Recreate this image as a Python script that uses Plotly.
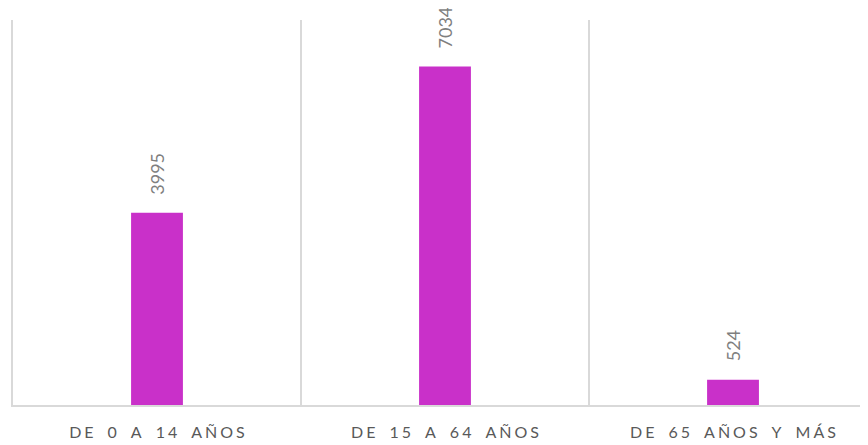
import plotly.graph_objects as go

categories = ["DE 0 A 14 AÑOS", "DE 15 A 64 AÑOS", "DE 65 AÑOS Y MÁS"]
values = [3995, 7034, 524]

def spaced(s):
    # emulate the wide letter spacing of the original axis labels
    words = s.split(" ")
    return "\u2003\u2009".join("\u2009\u200a".join(list(w)) for w in words)

xpos = list(range(len(categories)))

fig = go.Figure()
fig.add_trace(go.Bar(
    x=xpos, y=values, width=0.18,
    marker=dict(color="#C930C9", line=dict(width=0)),
    hoverinfo="skip",
))

for x, v in zip(xpos, values):
    fig.add_annotation(
        x=x, y=v, text=str(v), textangle=-90, showarrow=False,
        xanchor="center", yanchor="bottom", yshift=16,
        font=dict(family="Lato", size=18, color="#7F7F7F"),
    )

# the page body adds an 8px offset; margins compensate for it
fig.update_layout(
    width=868, height=445,
    margin=dict(l=5, r=0, t=12, b=48, autoexpand=False),
    paper_bgcolor="white", plot_bgcolor="white",
    showlegend=False,
    xaxis=dict(
        type="linear", range=[-0.5, 2.4965], automargin=False,
        tickmode="array", tickvals=xpos, ticktext=[spaced(c) for c in categories],
        showgrid=False, zeroline=False,
        showline=True, linecolor="#D9D9D9", linewidth=1.5,
        ticks="", ticklabelstandoff=12,
        tickfont=dict(family="Lato", size=16, color="#595959"),
        minor=dict(tickmode="linear", tick0=-0.5, dtick=1, showgrid=True,
                   gridcolor="#D9D9D9", gridwidth=1.5, ticks=""),
    ),
    yaxis=dict(
        range=[0, 8000], showgrid=False, zeroline=False, automargin=False,
        showticklabels=False, showline=True, linecolor="#D9D9D9", linewidth=1.5,
        ticks="",
    ),
)

fig.write_html("out.html")
